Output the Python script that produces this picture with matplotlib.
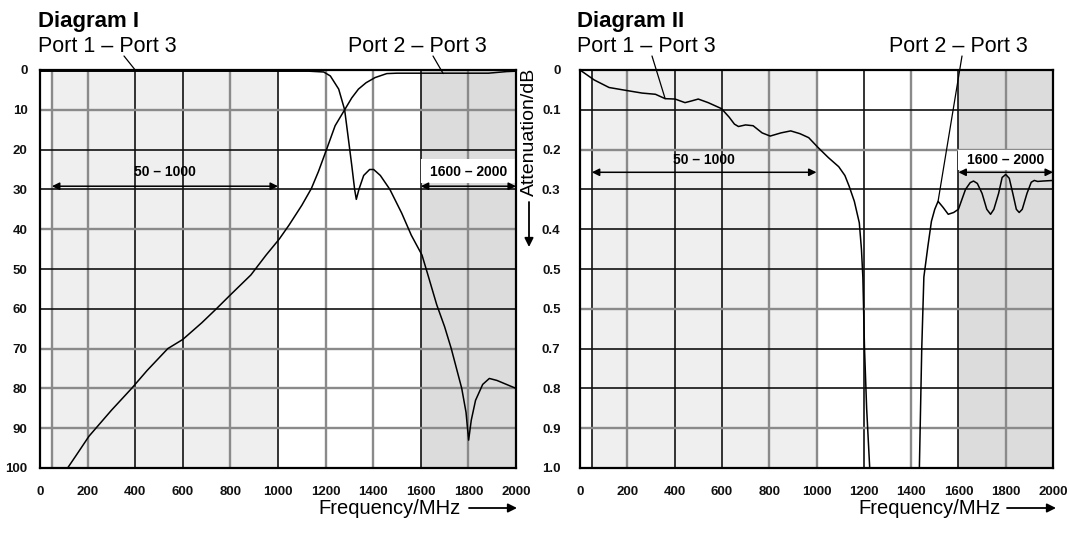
import matplotlib.pyplot as plt
from matplotlib.patches import Rectangle

plt.rcParams['font.family'] = ['Liberation Sans', 'DejaVu Sans']

# axis ticks
freq_ticks = [0, 200, 400, 600, 800, 1000, 1200, 1400, 1600, 1800, 2000]
db_ticks = [0, 10, 20, 30, 40, 50, 60, 70, 80, 90, 100]
loss_ticks = [0, 0.1, 0.2, 0.3, 0.4, 0.5, 0.6, 0.7, 0.8, 0.9, 1.0]
loss_labels = ['0', '0.1', '0.2', '0.3', '0.4', '0.5', '0.5', '0.7', '0.8', '0.9', '1.0']

# Diagram I - isolation (dB)
d1_p13_f = [0, 600, 1130, 1192, 1220, 1255, 1280, 1294, 1310, 1322, 1329, 1340, 1360,
            1385, 1402, 1430, 1470, 1520, 1560, 1605, 1630, 1667, 1700, 1728, 1750,
            1772, 1790, 1801, 1812, 1830, 1860, 1888, 1920, 1960, 2000]
d1_p13_db = [0.3, 0.3, 0.3, 0.5, 1.5, 4.8, 10, 16.5, 24, 30, 32.5, 30, 26.5,
             25, 25, 26.5, 30, 36, 41.5, 46.5, 51.5, 59, 64.5, 70, 75,
             80, 86, 93, 88, 83, 79, 77.5, 78, 79, 80]
d1_p23_f = [0, 116, 150, 206, 300, 385, 450, 537, 600, 680, 741, 800, 886, 950, 1005,
            1046, 1100, 1140, 1170, 1205, 1240, 1280, 1310, 1338, 1370, 1408, 1457,
            1500, 1884, 1960, 2000]
d1_p23_db = [100, 100, 97, 92, 85.5, 80, 75.5, 70, 67.7, 63.5, 60, 56.5, 51.5, 46.5, 42.5,
             39, 34, 29.8, 25.5, 19.8, 14, 10, 7, 4.8, 3.2, 1.9, 0.9,
             0.8, 0.8, 0.4, 0.3]

# Diagram II - insertion loss (dB)
d2_p13_f = [0, 12, 60, 123, 207, 263, 319, 360, 402, 444, 470, 500, 542, 598, 630, 653,
            670, 700, 732, 770, 804, 850, 891, 930, 967, 1007, 1050, 1094, 1120, 1138,
            1160, 1181, 1190, 1196, 1203, 1212, 1225, 1232]
d2_p13_db = [0.0, 0.005, 0.025, 0.044, 0.0525, 0.058, 0.061, 0.072, 0.073, 0.082, 0.078,
             0.073, 0.082, 0.097, 0.118, 0.136, 0.142, 0.138, 0.14, 0.158, 0.166, 0.158,
             0.153, 0.16, 0.17, 0.195, 0.22, 0.243, 0.265, 0.292, 0.33, 0.384, 0.45, 0.52,
             0.7, 0.85, 1.0, 1.05]
d2_p23_f = [1420, 1435, 1445, 1454, 1471, 1486, 1500, 1514, 1535, 1557, 1580, 1600, 1630,
            1650, 1664, 1680, 1700, 1720, 1736, 1750, 1770, 1785, 1800, 1815, 1830, 1845,
            1857, 1870, 1890, 1908, 1921, 1935, 1957, 2000]
d2_p23_db = [1.05, 1.0, 0.7, 0.52, 0.443, 0.38, 0.35, 0.33, 0.345, 0.3625, 0.358, 0.35, 0.3,
             0.283, 0.279, 0.285, 0.31, 0.35, 0.3625, 0.35, 0.31, 0.27, 0.2625, 0.272, 0.31,
             0.35, 0.358, 0.35, 0.31, 0.282, 0.2775, 0.28, 0.279, 0.2775]

W, H = 1069, 534
fig = plt.figure(figsize=(W / 100, H / 100), dpi=100)


def fx(px):
    return px / W


def fy(py):
    return 1 - py / H


ax1 = fig.add_axes([fx(40), fy(468), fx(476), 398 / H])
ax2 = fig.add_axes([fx(580), fy(468), fx(473), 398 / H])


def style(ax, ymax, yticks, ylabels, dark_x, gray_x, dark_y, gray_y, pad_y):
    ax.set_xlim(0, 2000)
    ax.set_ylim(ymax, 0)
    ax.axvspan(50, 1000, color='#efefef', lw=0, zorder=0)
    ax.axvspan(1600, 2000, color='#dcdcdc', lw=0, zorder=0)
    for x in dark_x:
        ax.axvline(x, color='#111111', lw=1.2, zorder=1)
    for x in gray_x:
        ax.axvline(x, color='#8a8a8a', lw=1.7, zorder=1)
    for y in dark_y:
        ax.axhline(y, color='#111111', lw=1.2, zorder=1)
    for y in gray_y:
        ax.axhline(y, color='#8a8a8a', lw=1.7, zorder=1)
    ax.set_xticks(freq_ticks)
    ax.set_xticklabels([str(t) for t in freq_ticks])
    ax.set_yticks(yticks)
    ax.set_yticklabels(ylabels)
    ax.tick_params(axis='both', length=0, labelsize=9.5, colors='#111111')
    ax.tick_params(axis='x', pad=13)
    ax.tick_params(axis='y', pad=pad_y)
    for lab in ax.get_xticklabels() + ax.get_yticklabels():
        lab.set_fontweight('bold')
    for s in ax.spines.values():
        s.set_linewidth(1.6)
        s.set_zorder(5)


style(ax1, 100, db_ticks, [str(t) for t in db_ticks],
      [400, 600, 1000, 1600], [50, 200, 800, 1200, 1400, 1800],
      [20, 30, 50, 60], [10, 40, 70, 80, 90], 9)
style(ax2, 1.0, loss_ticks, loss_labels,
      [50, 400, 600, 1200, 1600], [200, 800, 1000, 1400, 1800],
      [0.1, 0.3, 0.4, 0.5, 0.7, 0.8], [0.2, 0.6, 0.9], 14)

ax1.plot(d1_p13_f, d1_p13_db, color='black', lw=1.1, zorder=3)
ax1.plot(d1_p23_f, d1_p23_db, color='black', lw=1.1, zorder=3)
ax2.plot(d2_p13_f, d2_p13_db, color='black', lw=1.1, zorder=3)
ax2.plot(d2_p23_f, d2_p23_db, color='black', lw=1.1, zorder=3)

arrow_kw = dict(arrowstyle='<|-|>', color='black', lw=1.1, mutation_scale=11,
                shrinkA=0, shrinkB=0)

# band markers
for ax, y_arrow, y_lab, box in [(ax1, 29.2, 25.7, (22.3, 6.0)),
                                (ax2, 0.257, 0.226, (0.202, 0.05))]:
    ax.annotate('', xy=(1000, y_arrow), xytext=(50, y_arrow), arrowprops=arrow_kw, zorder=4)
    ax.text(525, y_lab, '50 \u2013 1000', ha='center', va='center', fontsize=10,
            fontweight='bold', zorder=4)
    ax.add_patch(Rectangle((1600, box[0]), 400, box[1], facecolor='white',
                           edgecolor='none', zorder=2))
    ax.annotate('', xy=(2000, y_arrow), xytext=(1600, y_arrow), arrowprops=arrow_kw, zorder=4)
    ax.text(1800, y_lab, '1600 \u2013 2000', ha='center', va='center', fontsize=10,
            fontweight='bold', zorder=4)

# titles and port labels
fig.text(fx(38), fy(27), 'Diagram I', fontsize=16, fontweight='bold', va='baseline')
fig.text(fx(38), fy(52), 'Port 1 \u2013 Port 3', fontsize=15.5, va='baseline')
fig.text(fx(348), fy(52), 'Port 2 \u2013 Port 3', fontsize=15.5, va='baseline')
fig.text(fx(577), fy(27), 'Diagram II', fontsize=16, fontweight='bold', va='baseline')
fig.text(fx(577), fy(52), 'Port 1 \u2013 Port 3', fontsize=15.5, va='baseline')
fig.text(fx(889), fy(52), 'Port 2 \u2013 Port 3', fontsize=15.5, va='baseline')

leader = dict(arrowstyle='-', color='black', lw=0.9, shrinkA=0, shrinkB=0)
ax1.annotate('', xy=(400, 0), xytext=(fx(124), fy(56)), textcoords='figure fraction',
             arrowprops=leader, annotation_clip=False)
ax1.annotate('', xy=(1694, 0.9), xytext=(fx(433), fy(56)), textcoords='figure fraction',
             arrowprops=leader, annotation_clip=False)
ax2.annotate('', xy=(360, 0.072), xytext=(fx(652), fy(56)), textcoords='figure fraction',
             arrowprops=leader, annotation_clip=False)
ax2.annotate('', xy=(1514, 0.33), xytext=(fx(962), fy(56)), textcoords='figure fraction',
             arrowprops=leader, annotation_clip=False)

# axis captions
big_arrow = dict(arrowstyle='-|>', color='black', lw=1.3, mutation_scale=13,
                 shrinkA=0, shrinkB=0)
fig.text(fx(318), fy(508), 'Frequency/MHz', fontsize=14.5, va='center')
fig.add_artist(plt.Annotation('', xy=(fx(517), fy(508)), xytext=(fx(469), fy(508)),
                              xycoords='figure fraction', arrowprops=big_arrow))
fig.text(fx(858), fy(508), 'Frequency/MHz', fontsize=14.5, va='center')
fig.add_artist(plt.Annotation('', xy=(fx(1056), fy(508)), xytext=(fx(1007), fy(508)),
                              xycoords='figure fraction', arrowprops=big_arrow))
fig.text(fx(529), fy(132), 'Attenuation/dB', fontsize=14, rotation=90,
         ha='center', va='center')
fig.add_artist(plt.Annotation('', xy=(fx(529), fy(247)), xytext=(fx(529), fy(202)),
                              xycoords='figure fraction', arrowprops=big_arrow))

fig.savefig('out.png', dpi=100)
